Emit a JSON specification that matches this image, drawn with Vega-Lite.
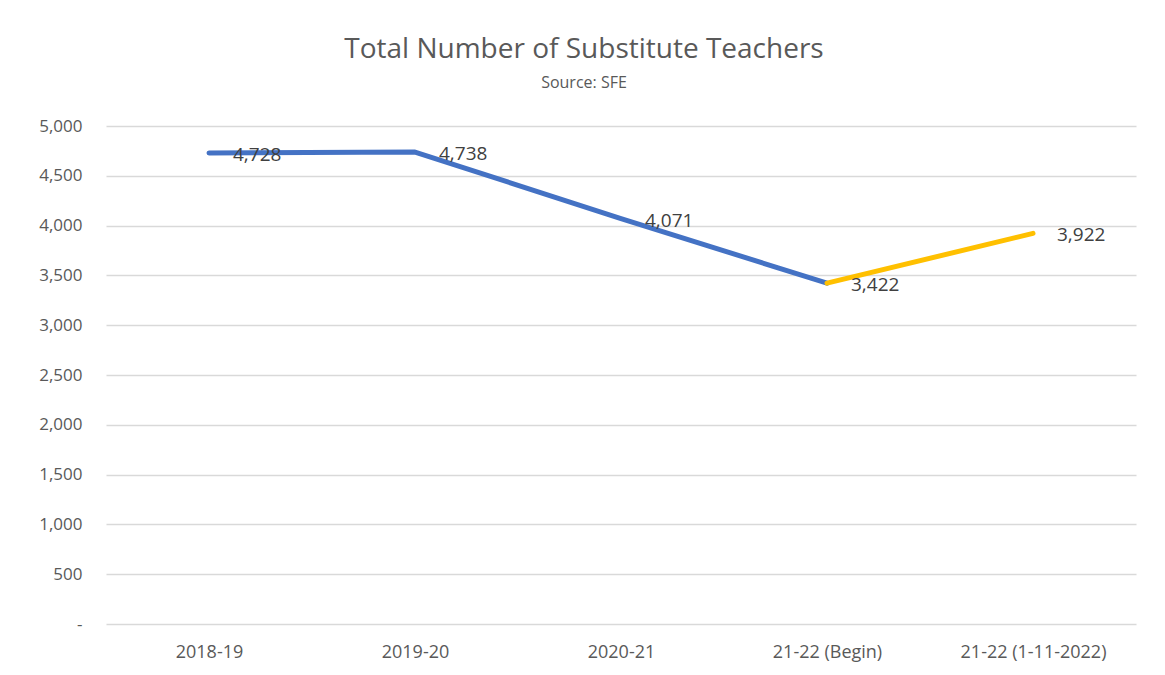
{
  "$schema": "https://vega.github.io/schema/vega-lite/v6.json",
  "autosize": "none",
  "width": 1030,
  "height": 498,
  "padding": {"left": 106, "top": 126, "right": 29, "bottom": 51},
  "background": "white",
  "config": {
    "view": {"stroke": null},
    "font": "Open Sans",
    "axis": {"labelFont": "Open Sans", "labelColor": "#595959", "labelFontSize": 17}
  },
  "title": {
    "text": "Total Number of Substitute Teachers",
    "subtitle": "Source: SFE",
    "anchor": "middle",
    "frame": "group",
    "dx": -37,
    "offset": 26,
    "fontSize": 28,
    "fontWeight": "normal",
    "color": "#595959",
    "subtitleFontSize": 16,
    "subtitleColor": "#595959",
    "subtitlePadding": 11
  },
  "datasets": {
    "lines": [
      {"period": "2018-19", "teachers": 4728, "series": "a"},
      {"period": "2019-20", "teachers": 4738, "series": "a"},
      {"period": "2020-21", "teachers": 4071, "series": "a"},
      {"period": "21-22 (Begin)", "teachers": 3422, "series": "a"},
      {"period": "21-22 (Begin)", "teachers": 3422, "series": "b"},
      {"period": "21-22 (1-11-2022)", "teachers": 3922, "series": "b"}
    ],
    "labels": [
      {"period": "2018-19", "teachers": 4728},
      {"period": "2019-20", "teachers": 4738},
      {"period": "2020-21", "teachers": 4071},
      {"period": "21-22 (Begin)", "teachers": 3422},
      {"period": "21-22 (1-11-2022)", "teachers": 3922}
    ]
  },
  "encoding": {
    "x": {
      "field": "period",
      "type": "ordinal",
      "sort": ["2018-19", "2019-20", "2020-21", "21-22 (Begin)", "21-22 (1-11-2022)"],
      "scale": {"paddingInner": 0, "paddingOuter": 0},
      "axis": {"title": null, "labelAngle": 0, "domain": false, "ticks": false, "labelPadding": 19, "labelFontSize": 18}
    },
    "y": {
      "field": "teachers",
      "type": "quantitative",
      "scale": {"domain": [0, 5000], "nice": false},
      "axis": {
        "title": null,
        "values": [0, 500, 1000, 1500, 2000, 2500, 3000, 3500, 4000, 4500, 5000],
        "labelExpr": "datum.value == 0 ? '-' : format(datum.value, ',')",
        "domain": false,
        "ticks": false,
        "labelPadding": 24,
        "gridColor": "#d9d9d9",
        "gridWidth": 1.5
      }
    }
  },
  "layer": [
    {
      "data": {"name": "lines"},
      "mark": {"type": "line", "strokeWidth": 5, "strokeCap": "round", "strokeJoin": "round"},
      "encoding": {
        "color": {
          "field": "series",
          "type": "nominal",
          "scale": {"domain": ["a", "b"], "range": ["#4472C4", "#FFC000"]},
          "legend": null
        }
      }
    },
    {
      "data": {"name": "labels"},
      "mark": {"type": "text", "align": "left", "baseline": "middle", "dx": 24, "dy": 2, "fontSize": 19, "color": "#404040"},
      "encoding": {
        "text": {"field": "teachers", "type": "quantitative", "format": ","}
      }
    }
  ]
}
